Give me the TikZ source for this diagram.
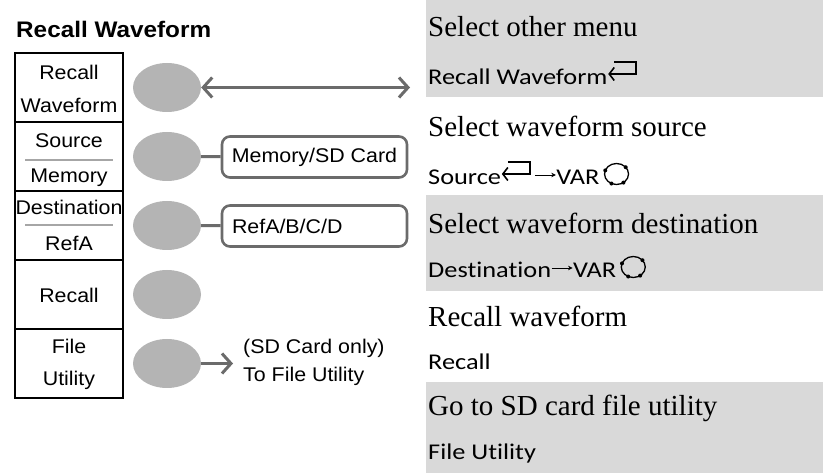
\documentclass[tikz,border=0pt]{standalone}
\usepackage{fontspec}
\setmainfont{Liberation Serif}
\newfontfamily\menufont[FakeStretch=1.08]{Liberation Sans}
\newfontfamily\keyfont[FakeStretch=1.17,Ligatures=NoCommon]{Carlito}
\usetikzlibrary{shapes.geometric,arrows.meta}

\definecolor{keygray}{HTML}{B4B4B4}
\definecolor{linkgray}{HTML}{6B6B6B}
\definecolor{bandgray}{HTML}{D9D9D9}
\definecolor{rulegray}{HTML}{A6A6A6}

% small panel symbols used inside the key lines
\newcommand\enterkey{\tikz[baseline=0pt]{\draw[line width=1.6pt,-{Straight Barb[length=5pt,width=13pt]}] (7pt,23pt) -- (29pt,23pt) -- (29pt,11pt) -- (1pt,11pt);}}
\newcommand\nextstep{\tikz[baseline=0pt]{\draw[line width=0.9pt,-{Stealth[length=4.5pt,width=4.5pt]}] (0pt,10pt) -- (21pt,10pt);}}
\newcommand\varknob{\tikz[baseline=0pt]{\draw[line width=1.3pt] (0pt,11pt) ellipse [x radius=12pt, y radius=10.5pt];
  \foreach \ang in {40,160,245,305} \fill[shift={(0pt,11pt)}] (\ang:12pt and 10.5pt) circle (2pt);}}

\tikzset{
  softkey/.style={ellipse, fill=keygray, minimum width=68pt, minimum height=49pt, inner sep=0pt},
  cell/.style={draw, line width=1.2pt, minimum width=108pt, minimum height=69pt, inner sep=0pt},
  celltext/.style={anchor=base, inner sep=0pt, font=\menufont\fontsize{19.8}{19.8}\selectfont},
  optbox/.style={draw=linkgray, line width=2.6pt, rounded corners=8pt, minimum width=185pt, minimum height=41pt, inner sep=0pt, font=\menufont\fontsize{19.8}{19.8}\selectfont},
  link/.style={draw=linkgray, line width=3pt},
  chev/.tip={Straight Barb[length=9pt,width=20pt]},
  desc/.style={anchor=base west, inner sep=0pt, font=\fontsize{29}{29}\selectfont},
  how/.style={anchor=base west, inner sep=0pt, font=\keyfont\fontsize{22.5}{22.5}\selectfont},
}

\begin{document}
\begin{tikzpicture}[x=1pt,y=-1pt]
  \useasboundingbox (0,0) rectangle (823,473);

  % shaded rows on the right
  \fill[bandgray] (426,0) rectangle (823,97);
  \fill[bandgray] (426,195) rectangle (823,291);
  \fill[bandgray] (426,382) rectangle (823,473);

  \node[anchor=base west, inner sep=0pt, font=\menufont\bfseries\fontsize{22.5}{22.5}\selectfont] (title) at (16,38) {Recall Waveform};

  % menu column
  \node[cell] (cellA) at (69,87.5) {};
  \node[cell] (cellB) at (69,156.5) {};
  \node[cell] (cellC) at (69,225.5) {};
  \node[cell] (cellD) at (69,294.5) {};
  \node[cell] (cellE) at (69,363.5) {};

  \node[celltext] (tA1) at (69,80) {Recall};
  \node[celltext] (tA2) at (69,113) {Waveform};
  \node[celltext] (tB1) at (69,148) {Source};
  \node[celltext] (tB2) at (69,183) {Memory};
  \node[celltext] (tC1) at (69,215) {Destination};
  \node[celltext] (tC2) at (69,251) {RefA};
  \node[celltext] (tD1) at (69,303) {Recall};
  \node[celltext] (tE1) at (69,354) {File};
  \node[celltext] (tE2) at (69,386) {Utility};

  \draw[rulegray, line width=1.4pt] (25,160) -- (113,160);
  \draw[rulegray, line width=1.4pt] (25,225) -- (113,225);

  % soft keys
  \node[softkey] (key1) at (167,87.5) {};
  \node[softkey] (key2) at (167,156.5) {};
  \node[softkey] (key3) at (167,225.5) {};
  \node[softkey] (key4) at (167,294.5) {};
  \node[softkey] (key5) at (167,363.5) {};

  \coordinate (menuend) at (410,87.5);
  \draw[link, chev-chev] (key1) -- (menuend);

  \node[optbox] (srcopt) at (314.5,157) {Memory/SD Card};
  \node[optbox, text width=165pt, inner xsep=10pt, align=left] (dstopt) at (314.5,226) {RefA/B/C/D};
  \draw[link] (key2) -- (srcopt);
  \draw[link] (key3) -- (dstopt);

  \coordinate (fileend) at (233,363.5);
  \draw[link, -chev] (key5) -- (fileend);
  \node[celltext, anchor=base west] (sdonly) at (243,354) {(SD Card only)};
  \node[celltext, anchor=base west] (tofile) at (243,382) {To File Utility};

  % what each key does
  \node[desc] (d1) at (428,37) {Select other menu};
  \node[how] (h1) at (428,85) {Recall Waveform\enterkey};
  \node[desc] (d2) at (428,137) {Select waveform source};
  \node[how] (h2) at (428,185) {Source\enterkey\,\nextstep VAR\,\varknob};
  \node[desc] (d3) at (428,234) {Select waveform destination};
  \node[how] (h3) at (428,278) {Destination\nextstep VAR\,\varknob};
  \node[desc] (d4) at (428,327) {Recall waveform};
  \node[how] (h4) at (428,370) {Recall};
  \node[desc] (d5) at (428,416) {Go to SD card file utility};
  \node[how] (h5) at (428,460) {File Utility};
\end{tikzpicture}
\end{document}
